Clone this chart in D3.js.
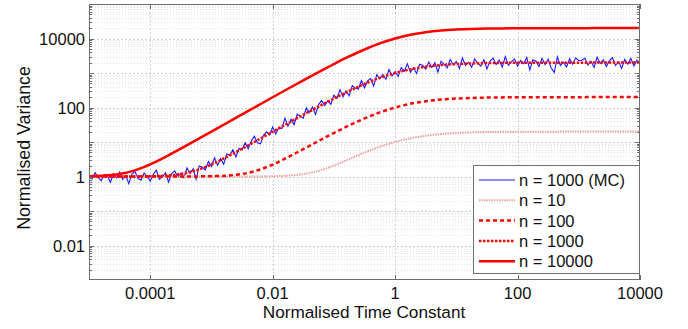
<!DOCTYPE html>
<html lang="en">
<head>
<meta charset="UTF-8">
<script src="https://cdn.jsdelivr.net/npm/d3@7"></script>
<style>
  body { margin: 0; background: #fff; }
  svg { display: block; font-family: "Liberation Sans", Arial, sans-serif; }
</style>
</head>
<body>
<div id="chart"></div>
<script>
// sample grids, log10 of the normalised time constant
const logTauCurve = d3.range(37).map(i => -5 + i * 0.25);
const logTauMC = d3.range(181).map(i => -5 + i * 0.05);

// normalised variance
const curve10 = [1.0, 1.0, 1.0, 1.0, 1.0, 1.0, 1.0, 1.0001, 1.0002, 1.0006, 1.002, 1.006,
  1.019, 1.059, 1.173, 1.461, 2.075, 3.179, 4.909, 7.267, 10.05, 12.84, 15.23, 17.01, 18.21, 18.97,
  19.42, 19.68, 19.83, 19.92, 19.97, 19.99, 20.0, 20.01, 20.01, 20.02, 20.02];
const curve100 = [1.0, 1.0, 1.0, 1.0001, 1.0002, 1.0006, 1.002, 1.006, 1.020, 1.061, 1.182, 1.500,
  2.218, 3.634, 6.211, 10.70, 18.21, 30.20, 48.07, 71.99, 100.0, 128.0, 151.9, 169.8, 181.8, 189.4,
  193.9, 196.5, 198.0, 198.9, 199.4, 199.6, 199.8, 199.9, 199.9, 200, 200];
const curve1000 = [1.0002, 1.0006, 1.002, 1.006, 1.020, 1.061, 1.183, 1.504, 2.234, 3.688, 6.383, 11.22,
  19.83, 34.95, 61.31, 106.5, 181.8, 301.8, 480.6, 719.8, 1000, 1280, 1519, 1698, 1818, 1894, 1939,
  1965, 1980, 1989, 1994, 1996, 1998, 1999, 1999, 2000, 2000];
const curve10000 = [1.020, 1.061, 1.183, 1.505, 2.236, 3.694, 6.401, 11.28, 20.0, 35.51, 63.05, 111.8,
  198.0, 349.4, 613.0, 1065, 1818, 3018, 4806, 7198, 10000, 12802, 15194, 16980, 18182, 18936, 19386,
  19650, 19802, 19888, 19936, 19964, 19980, 19988, 19994, 19996, 19998];
const mc1000 = [1.102, 0.851, 1.294, 0.938, 0.749, 1.139, 1.034, 0.680, 1.214, 0.910,
  1.340, 0.826, 1.070, 0.619, 1.181, 1.388, 0.886, 0.781, 1.269, 1.016,
  0.738, 1.166, 1.518, 0.829, 0.984, 1.287, 0.686, 1.208, 1.448, 0.977,
  1.222, 0.917, 1.764, 1.218, 1.664, 0.844, 2.017, 1.849, 1.547, 2.731,
  1.964, 3.499, 2.093, 3.299, 2.254, 4.474, 4.106, 5.925, 3.700, 6.496,
  5.987, 9.548, 6.378, 10.52, 14.75, 9.548, 8.831, 15.54, 19.78, 16.07,
  27.37, 17.17, 26.56, 24.52, 49.03, 28.79, 45.97, 31.71, 63.42, 56.63,
  48.92, 97.72, 71.82, 103.7, 62.81, 121.2, 158.7, 112.5, 157.1, 122.4,
  227.8, 183.2, 329.1, 204.1, 301.5, 218.5, 430.4, 365.9, 341.7, 606.8,
  371.4, 596.1, 690.7, 419.3, 892.7, 675.2, 909.2, 661.5, 1262, 828.5,
  1102, 791.0, 1442, 1134, 1865, 1055, 1421, 970.5, 1792, 1680,
  1293, 2086, 1451, 1982, 1062, 2197, 1783, 1398, 2452, 1687,
  2136, 1330, 2727, 1642, 2073, 1464, 2546, 1915, 1585, 2420,
  1316, 2214, 2692, 1776, 2379, 1470, 2995, 1678, 2108, 2559,
  1580, 2329, 1861, 2832, 1226, 2411, 2192, 1538, 2662, 1751,
  2497, 1400, 1047, 2937, 1644, 2062, 1493, 2584, 1813, 2756,
  2274, 2348, 2671, 1700, 2203, 1447, 2851, 1875, 2425, 1545,
  2275, 2759, 1648, 2134, 1358, 2506, 1816, 2674, 1596, 2350,
  1876];

const xTicks = [1e-4, 1e-2, 1, 1e2, 1e4];
const xTickLabels = ["0.0001", "0.01", "1", "100", "10000"];
const yTicks = [1e-2, 1, 1e2, 1e4];
const yTickLabels = ["0.01", "1", "100", "10000"];

const series = [
  { name: "n = 1000 (MC)", tau: logTauMC, v: mc1000, color: "#1a1aff", width: 1.1, dash: null },
  { name: "n = 10", tau: logTauCurve, v: curve10, color: "#eaa2a2", width: 2, dash: "1.5,1" },
  { name: "n = 100", tau: logTauCurve, v: curve100, color: "#ff0000", width: 2.5, dash: "4,3" },
  { name: "n = 1000", tau: logTauCurve, v: curve1000, color: "#ff0000", width: 2.5, dash: "2.5,1.5" },
  { name: "n = 10000", tau: logTauCurve, v: curve10000, color: "#ff0000", width: 2.5, dash: null }
];

const W = 688, H = 329;
const L = 89, R = 640, T = 4, B = 280;

const svg = d3.select("#chart").append("svg").attr("width", W).attr("height", H);

const x = d3.scaleLog().domain([1e-5, 1e4]).range([L, R]);
const y = d3.scaleLog().domain([1e-3, 1e5]).range([B, T]);

// grid
const decadesY = d3.range(-3, 6).map(e => Math.pow(10, e));
const minorY = [];
decadesY.slice(0, -1).forEach(d => { for (let m = 2; m <= 9; m++) minorY.push(d * m); });

const grid = svg.append("g");
grid.selectAll(".minor").data(minorY).enter().append("line")
  .attr("x1", L).attr("x2", R)
  .attr("y1", d => Math.round(y(d)) + 0.5).attr("y2", d => Math.round(y(d)) + 0.5)
  .attr("stroke", "#e2e2e2").attr("stroke-dasharray", "1,2");
grid.selectAll(".major").data(decadesY.slice(1, -1)).enter().append("line")
  .attr("x1", L).attr("x2", R)
  .attr("y1", d => Math.round(y(d)) + 0.5).attr("y2", d => Math.round(y(d)) + 0.5)
  .attr("stroke", "#cfcfcf").attr("stroke-dasharray", "2,2");
grid.selectAll(".vx").data(xTicks.slice(0, -1)).enter().append("line")
  .attr("y1", T).attr("y2", B)
  .attr("x1", d => Math.round(x(d)) + 0.5).attr("x2", d => Math.round(x(d)) + 0.5)
  .attr("stroke", "#cfcfcf").attr("stroke-dasharray", "2,2");

// data lines
svg.append("clipPath").attr("id", "clip").append("rect")
  .attr("x", L).attr("y", T).attr("width", R - L).attr("height", B - T);

const line = d3.line()
  .x(d => x(Math.pow(10, d[0])))
  .y(d => y(d[1]));

const plot = svg.append("g").attr("clip-path", "url(#clip)");
series.forEach((s, i) => {
  const pts = s.tau.map((t, j) => [t, s.v[j]]);
  plot.append("path")
    .attr("d", line.curve(i === 0 ? d3.curveLinear : d3.curveMonotoneX)(pts))
    .attr("fill", "none")
    .attr("stroke", s.color)
    .attr("stroke-width", s.width)
    .attr("stroke-dasharray", s.dash);
});

// frame
svg.append("rect").attr("x", L + 0.5).attr("y", T + 0.5)
  .attr("width", R - L - 1).attr("height", B - T - 1)
  .attr("fill", "none").attr("stroke", "#6e6e6e");

// ticks
const tk = svg.append("g").attr("stroke", "#6e6e6e");
decadesY.slice(1, -1).forEach(d => {
  const yy = Math.round(y(d)) + 0.5;
  tk.append("line").attr("x1", L).attr("x2", L + 5).attr("y1", yy).attr("y2", yy);
  tk.append("line").attr("x1", R - 5).attr("x2", R).attr("y1", yy).attr("y2", yy);
});
minorY.forEach(d => {
  const yy = Math.round(y(d)) + 0.5;
  tk.append("line").attr("x1", L).attr("x2", L + 3).attr("y1", yy).attr("y2", yy);
  tk.append("line").attr("x1", R - 3).attr("x2", R).attr("y1", yy).attr("y2", yy);
});
xTicks.forEach(d => {
  const xx = Math.round(x(d)) + 0.5;
  tk.append("line").attr("x1", xx).attr("x2", xx).attr("y1", B).attr("y2", B - 5);
  tk.append("line").attr("x1", xx).attr("x2", xx).attr("y1", T).attr("y2", T + 5);
});

// tick labels
svg.selectAll(".xl").data(xTicks).enter().append("text")
  .attr("x", d => x(d)).attr("y", 299)
  .attr("text-anchor", "middle").attr("font-size", 16.5).attr("fill", "#111")
  .text((d, i) => xTickLabels[i]);
svg.selectAll(".yl").data(yTicks).enter().append("text")
  .attr("x", 85).attr("y", d => y(d) + 6)
  .attr("text-anchor", "end").attr("font-size", 16.5).attr("fill", "#111")
  .text((d, i) => yTickLabels[i]);

// axis titles
svg.append("text").attr("x", 364).attr("y", 318)
  .attr("text-anchor", "middle").attr("font-size", 17.2).attr("fill", "#111")
  .text("Normalised Time Constant");
svg.append("text").attr("transform", "translate(30,148) rotate(-90)")
  .attr("text-anchor", "middle").attr("font-size", 17.8).attr("fill", "#111")
  .text("Normalised Variance");

// legend
const lg = svg.append("g");
lg.append("rect").attr("x", 473.5).attr("y", 165.5).attr("width", 166).attr("height", 108)
  .attr("fill", "#fff").attr("stroke", "#6e6e6e");
series.forEach((s, i) => {
  const yy = 180 + i * 20.3;
  lg.append("line").attr("x1", 479).attr("x2", 515).attr("y1", yy).attr("y2", yy)
    .attr("stroke", s.color).attr("stroke-width", s.width).attr("stroke-dasharray", s.dash);
  lg.append("text").attr("x", 519).attr("y", yy + 6)
    .attr("font-size", 16.5).attr("fill", "#111").text(s.name);
});
</script>
</body>
</html>
